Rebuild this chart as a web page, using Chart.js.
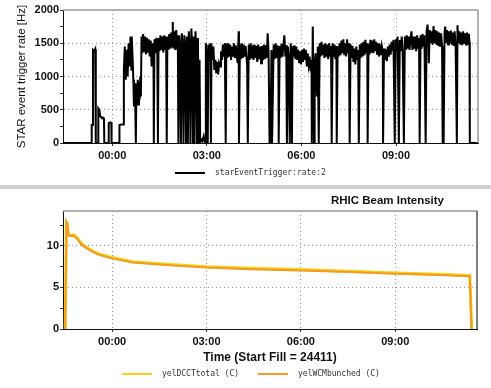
<!DOCTYPE html>
<html>
<head>
<meta charset="utf-8">
<script src="https://cdn.jsdelivr.net/npm/chart.js@4.4.1/dist/chart.umd.min.js"></script>
<style>
  html, body { margin: 0; padding: 0; background: #fff; }
  #wrap { position: relative; width: 491px; height: 388px; overflow: hidden; }
  #rateChart { position: absolute; left: 0; top: 0; }
  #band { position: absolute; left: 0; top: 185px; width: 491px; height: 4px; background: #cfcfcf; }
  #beamChart { position: absolute; left: 0; top: 189px; }
</style>
</head>
<body>
<div id="wrap">
  <canvas id="rateChart" width="491" height="185"></canvas>
  <div id="band"></div>
  <canvas id="beamChart" width="491" height="199"></canvas>
</div>
<script>
// time axis, hours relative to 00:00
const tickHours = [0, 3, 6, 9];
const tickLabels = ["00:00", "03:00", "06:00", "09:00"];
const xMin = -1.56;
const xMax = 11.6;

const rateTicks = [0, 250, 500, 750, 1000, 1250, 1500, 1750, 2000];
const beamTicks = [0, 2.5, 5, 7.5, 10, 12.5];

// starEventTrigger:rate:2
const rateHours = [
  -1.56, -0.66, -0.65, -0.62, -0.61, -0.57, -0.54, -0.52, -0.45, -0.44,
  -0.41, -0.38, -0.35, -0.32, -0.29, -0.26, -0.25, -0.12, -0.11, -0.06,
  -0.03, -0.02, 0.22, 0.23, 0.30, 0.36, 0.37, 0.40, 0.43, 0.46,
  0.49, 0.52, 0.55, 0.58, 0.61, 0.62, 0.65, 0.67, 0.69, 0.71,
  0.73, 0.75, 0.77, 0.79, 0.81, 0.83, 0.85, 0.87, 0.89, 0.91,
  0.93, 0.95, 0.98, 1.01, 1.04, 1.07, 1.10, 1.13, 1.16, 1.19,
  1.22, 1.25, 1.28, 1.31, 1.32, 1.34, 1.37, 1.40, 1.43, 1.45,
  1.47, 1.50, 1.53, 1.56, 1.59, 1.62, 1.65, 1.68, 1.71, 1.73,
  1.75, 1.78, 1.81, 1.84, 1.87, 1.90, 1.92, 1.94, 1.97, 2.00,
  2.03, 2.06, 2.08, 2.10, 2.13, 2.16, 2.18, 2.21, 2.24, 2.26,
  2.29, 2.32, 2.34, 2.37, 2.40, 2.43, 2.46, 2.48, 2.51, 2.54,
  2.56, 2.59, 2.61, 2.64, 2.67, 2.69, 2.72, 2.74, 2.77, 2.79,
  2.82, 2.86, 2.90, 2.93, 2.96, 2.97, 3.00, 3.03, 3.05, 3.08,
  3.11, 3.13, 3.15, 3.18, 3.21, 3.24, 3.27, 3.30, 3.33, 3.36,
  3.39, 3.42, 3.45, 3.48, 3.51, 3.54, 3.57, 3.60, 3.62, 3.65,
  3.68, 3.71, 3.74, 3.77, 3.80, 3.83, 3.86, 3.89, 3.92, 3.95,
  3.98, 4.01, 4.02, 4.05, 4.08, 4.11, 4.14, 4.17, 4.20, 4.23,
  4.26, 4.28, 4.30, 4.33, 4.36, 4.39, 4.42, 4.45, 4.48, 4.51,
  4.54, 4.57, 4.60, 4.63, 4.66, 4.69, 4.72, 4.75, 4.78, 4.81,
  4.84, 4.87, 4.90, 4.93, 4.96, 4.99, 5.02, 5.05, 5.07, 5.09,
  5.12, 5.15, 5.18, 5.21, 5.24, 5.27, 5.28, 5.31, 5.34, 5.37,
  5.40, 5.43, 5.46, 5.49, 5.52, 5.54, 5.57, 5.60, 5.63, 5.66,
  5.69, 5.70, 5.72, 5.75, 5.78, 5.81, 5.84, 5.87, 5.90, 5.93,
  5.96, 5.99, 6.02, 6.05, 6.08, 6.11, 6.14, 6.17, 6.20, 6.23,
  6.26, 6.29, 6.32, 6.33, 6.36, 6.38, 6.40, 6.42, 6.45, 6.49,
  6.52, 6.55, 6.58, 6.61, 6.64, 6.67, 6.70, 6.73, 6.76, 6.79,
  6.82, 6.85, 6.88, 6.91, 6.94, 6.96, 6.99, 7.02, 7.05, 7.08,
  7.11, 7.12, 7.15, 7.18, 7.21, 7.24, 7.27, 7.30, 7.33, 7.36,
  7.39, 7.42, 7.45, 7.48, 7.51, 7.53, 7.56, 7.59, 7.62, 7.65,
  7.68, 7.71, 7.74, 7.77, 7.80, 7.82, 7.85, 7.88, 7.91, 7.94,
  7.97, 8.00, 8.03, 8.06, 8.09, 8.10, 8.13, 8.16, 8.19, 8.22,
  8.25, 8.28, 8.31, 8.34, 8.37, 8.40, 8.43, 8.46, 8.49, 8.52,
  8.55, 8.58, 8.59, 8.62, 8.65, 8.68, 8.71, 8.74, 8.77, 8.80,
  8.83, 8.86, 8.89, 8.92, 8.96, 8.99, 9.02, 9.05, 9.09, 9.12,
  9.15, 9.18, 9.21, 9.25, 9.28, 9.31, 9.34, 9.37, 9.40, 9.43,
  9.46, 9.49, 9.52, 9.55, 9.58, 9.61, 9.64, 9.67, 9.70, 9.73,
  9.75, 9.78, 9.81, 9.84, 9.87, 9.90, 9.94, 9.97, 10.00, 10.03,
  10.04, 10.07, 10.10, 10.13, 10.16, 10.19, 10.22, 10.25, 10.28, 10.31,
  10.34, 10.37, 10.40, 10.43, 10.46, 10.48, 10.51, 10.54, 10.56, 10.59,
  10.62, 10.65, 10.68, 10.71, 10.74, 10.77, 10.80, 10.83, 10.86, 10.89,
  10.93, 10.95, 10.98, 11.01, 11.04, 11.07, 11.10, 11.13, 11.16, 11.19,
  11.22, 11.25, 11.28, 11.31, 11.33, 11.34, 11.62
];
const rateHz = [
  0, 0, 270, 270, 1400, 1380, 1410, 0, 0, 520,
  500, 400, 390, 370, 380, 375, 0, 0, 300, 310,
  300, 0, 0, 270, 280, 280, 1100, 1450, 950, 1400,
  1000, 1500, 1150, 1600, 1100, 1600, 1250, 950, 550, 900,
  600, 0, 900, 600, 950, 580, 920, 650, 1000, 700,
  1600, 1350, 1640, 1380, 1600, 1330, 1580, 1360, 1560, 1300,
  1540, 1150, 1500, 1300, 0, 1560, 1350, 1580, 1380, 0,
  1580, 1380, 1620, 1400, 1600, 1360, 1620, 1400, 1600, 0,
  1600, 1400, 1640, 1420, 1660, 1450, 1820, 1420, 1680, 1400,
  1700, 1420, 1620, 0, 1620, 1380, 0, 1650, 1400, 0,
  1620, 1380, 0, 1600, 0, 1680, 1400, 0, 1720, 1420,
  0, 1600, 0, 1680, 1400, 0, 1580, 0, 1250, 0,
  60, 30, 100, 20, 0, 1500, 1300, 0, 1480, 1280,
  1500, 0, 1480, 1250, 1450, 1100, 1250, 1050, 1220, 1030,
  1200, 1150, 1380, 1250, 1480, 1300, 1500, 0, 1500, 1280,
  1500, 1300, 1480, 1250, 1450, 1300, 1500, 1280, 1470, 1300,
  1200, 1680, 0, 1480, 1260, 1500, 1280, 1480, 1300, 1460,
  1300, 1150, 0, 1480, 1250, 1500, 1270, 1470, 1250, 1480,
  1280, 1460, 1220, 1480, 1260, 1450, 1200, 1460, 1250, 1480,
  1260, 1470, 1280, 1650, 1350, 0, 0, 1400, 0, 0,
  1480, 1260, 1500, 1280, 1470, 1250, 0, 1460, 1280, 1490,
  1300, 1480, 1620, 1300, 1470, 0, 1450, 1280, 0, 1500,
  1280, 0, 1460, 1300, 1470, 1260, 1450, 1250, 1400, 1200,
  1380, 1180, 1400, 1220, 1420, 1250, 1400, 1150, 1350, 1180,
  1300, 1080, 1250, 0, 1750, 1000, 0, 1150, 1350, 700,
  1450, 0, 1500, 1300, 1520, 1320, 1480, 1280, 1500, 1300,
  1480, 1260, 1500, 1300, 1460, 0, 1500, 1300, 1480, 1260,
  1460, 0, 1450, 1300, 1500, 1320, 1540, 1350, 1560, 1320,
  1500, 1300, 1560, 1350, 1500, 0, 1480, 1280, 1460, 1220,
  1420, 1180, 1450, 1250, 1400, 0, 1480, 1280, 1500, 1300,
  1520, 1320, 1550, 1350, 1500, 0, 1480, 1330, 1550, 1360,
  1540, 1350, 1560, 1380, 1520, 1330, 1500, 1300, 1480, 1320,
  1460, 1380, 0, 1420, 1250, 1400, 1230, 1450, 1300, 1480,
  1330, 1520, 1380, 1550, 0, 1560, 1380, 1600, 0, 1550,
  1380, 1600, 1400, 0, 1600, 1400, 1620, 1420, 1600, 1400,
  1580, 1680, 1400, 1600, 1420, 1600, 1380, 1620, 1420, 1580,
  0, 1620, 1420, 1640, 1450, 1620, 0, 1680, 1780, 1480,
  1200, 1700, 1500, 1680, 1480, 1760, 1500, 1700, 1480, 1680,
  1460, 1660, 1450, 1650, 1460, 0, 0, 1660, 1750, 1500,
  1700, 1480, 1680, 1500, 1690, 1480, 1660, 1460, 1680, 1480,
  0, 1770, 1500, 1680, 1480, 1660, 1470, 1680, 1490, 1650,
  1480, 1660, 1480, 1640, 1520, 0, 0
];

// RHIC beam intensity
const beamHours = [
  -1.49, -1.45, -1.42, -1.39, -1.34, -1.21, -1.12, -1.02, -0.92, -0.81,
  -0.6, -0.39, 0, 0.66, 1.72, 3.0, 4.4, 6.0, 7.53, 9.0,
  10.39, 11.37, 11.43
];
const dcctTotal = [
  0, 12.8, 12.7, 11.4, 11.3, 11.3, 11.0, 10.5, 10.1, 9.8,
  9.35, 9.0, 8.6, 8.1, 7.8, 7.5, 7.3, 7.15, 6.95, 6.75,
  6.6, 6.45, 0
];
const wcmBunched = [
  0, 12.9, 12.6, 11.3, 11.2, 11.2, 10.9, 10.4, 10.0, 9.7,
  9.25, 8.9, 8.5, 8.0, 7.7, 7.4, 7.2, 7.05, 6.85, 6.65,
  6.5, 6.35, 0
];

const toPoints = (xs, ys) => xs.map((x, i) => ({ x: x, y: ys[i] }));

Chart.defaults.font.family = '"Liberation Sans", Arial, sans-serif';
Chart.defaults.color = "#111";

// grey top / right edge of the plot box
const plotFrame = {
  id: "plotFrame",
  afterDraw(chart, args, opts) {
    const { ctx, chartArea: a } = chart;
    ctx.save();
    ctx.lineWidth = opts.width;
    ctx.strokeStyle = opts.topColor;
    ctx.beginPath();
    ctx.moveTo(a.left, a.top);
    ctx.lineTo(a.right, a.top);
    ctx.stroke();
    ctx.strokeStyle = opts.rightColor;
    ctx.beginPath();
    ctx.moveTo(a.right, a.top);
    ctx.lineTo(a.right, a.bottom);
    ctx.stroke();
    ctx.restore();
  },
};

// legend with line samples at fixed spots
const lineLegend = {
  id: "lineLegend",
  afterDraw(chart, args, opts) {
    const ctx = chart.ctx;
    ctx.save();
    ctx.font = opts.font;
    ctx.textBaseline = "middle";
    ctx.textAlign = "left";
    chart.data.datasets.forEach((ds, i) => {
      const x = opts.x[i];
      ctx.strokeStyle = ds.borderColor;
      ctx.lineWidth = 2;
      ctx.beginPath();
      ctx.moveTo(x, opts.y);
      ctx.lineTo(x + 30, opts.y);
      ctx.stroke();
      ctx.fillStyle = "#333";
      ctx.fillText(ds.label, x + 40, opts.y);
    });
    ctx.restore();
  },
};

const cornerTitle = {
  id: "cornerTitle",
  afterDraw(chart, args, opts) {
    if (!opts.text) return;
    const ctx = chart.ctx;
    ctx.save();
    ctx.font = opts.font;
    ctx.fillStyle = "#111";
    ctx.textAlign = "right";
    ctx.textBaseline = "middle";
    ctx.fillText(opts.text, opts.x, opts.y);
    ctx.restore();
  },
};

Chart.register(plotFrame, lineLegend, cornerTitle);

const timeAxis = (extra) =>
  Object.assign(
    {
      type: "linear",
      min: xMin,
      max: xMax,
      afterBuildTicks: (s) => {
        s.ticks = tickHours.map((v) => ({ value: v }));
      },
      ticks: {
        callback: (v) => tickLabels[tickHours.indexOf(v)],
        font: { size: 11, weight: "bold" },
        padding: 3,
        maxRotation: 0,
        autoSkip: false,
      },
      grid: { color: "#9a9a9a", tickColor: "#333", tickLength: 3 },
      border: { color: "#111", dash: [1, 3] },
    },
    extra
  );

const rateChart = new Chart(document.querySelector("#rateChart"), {
  type: "line",
  data: {
    datasets: [
      {
        label: "starEventTrigger:rate:2",
        data: toPoints(rateHours, rateHz),
        borderColor: "#000",
        borderWidth: 2,
        pointRadius: 0,
        tension: 0,
      },
    ],
  },
  options: {
    responsive: false,
    animation: false,
    events: [],
    devicePixelRatio: 1,
    layout: { padding: { top: 10, right: 13, bottom: 22, left: 0 } },
    plugins: {
      legend: { display: false },
      tooltip: { enabled: false },
      plotFrame: { topColor: "#999", rightColor: "#999", width: 1.5 },
      lineLegend: { x: [175], y: 173, font: '8px "DejaVu Sans Mono", monospace' },
    },
    scales: {
      x: timeAxis({
        afterFit: (s) => {
          s.height = 20;
        },
      }),
      y: {
        min: 0,
        max: 2000,
        afterBuildTicks: (s) => {
          s.ticks = rateTicks.map((v) => ({ value: v }));
        },
        afterFit: (s) => {
          s.width = 63;
        },
        ticks: {
          callback: (v) => (v % 500 === 0 ? String(v) : ""),
          font: { size: 11, weight: "bold" },
          padding: 1,
          autoSkip: false,
        },
        grid: {
          color: (c) =>
            c.tick && c.tick.value % 500 === 0 && c.tick.value > 0 && c.tick.value < 2000
              ? "#9a9a9a"
              : "rgba(0,0,0,0)",
          tickColor: "#333",
          tickLength: 3,
        },
        border: { color: "#111", dash: [1, 3] },
        title: {
          display: true,
          text: "STAR event trigger rate [Hz]",
          font: { size: 11.5 },
          padding: { top: 15, bottom: 0 },
        },
      },
    },
  },
});

const beamChart = new Chart(document.querySelector("#beamChart"), {
  type: "line",
  data: {
    datasets: [
      {
        label: "yelDCCTtotal (C)",
        data: toPoints(beamHours, dcctTotal),
        borderColor: "#f7d117",
        borderWidth: 3,
        pointRadius: 0,
        tension: 0,
        order: 1,
      },
      {
        label: "yelWCMbunched (C)",
        data: toPoints(beamHours, wcmBunched),
        borderColor: "#f39a22",
        borderWidth: 2,
        pointRadius: 0,
        tension: 0,
        order: 0,
      },
    ],
  },
  options: {
    responsive: false,
    animation: false,
    events: [],
    devicePixelRatio: 1,
    layout: { padding: { top: 22, right: 14, bottom: 19, left: 0 } },
    plugins: {
      legend: { display: false },
      tooltip: { enabled: false },
      plotFrame: { topColor: "#999", rightColor: "#555", width: 1.5 },
      lineLegend: { x: [122, 258], y: 185, font: '8px "DejaVu Sans Mono", monospace' },
      cornerTitle: {
        text: "RHIC Beam Intensity",
        x: 444,
        y: 12,
        font: 'bold 11.5px "Liberation Sans", Arial, sans-serif',
      },
    },
    scales: {
      x: timeAxis({
        afterFit: (s) => {
          s.height = 40;
        },
        title: {
          display: true,
          text: "Time (Start Fill = 24411)",
          font: { size: 12, weight: "bold" },
          padding: { top: 0, bottom: 4 },
        },
      }),
      y: {
        min: 0,
        max: 14.2,
        afterBuildTicks: (s) => {
          s.ticks = beamTicks.map((v) => ({ value: v }));
        },
        afterFit: (s) => {
          s.width = 63;
        },
        ticks: {
          callback: (v) => (v % 5 === 0 ? String(v) : ""),
          font: { size: 11, weight: "bold" },
          padding: 1,
          autoSkip: false,
        },
        grid: {
          color: (c) =>
            c.tick && c.tick.value % 5 === 0 && c.tick.value > 0 ? "#9a9a9a" : "rgba(0,0,0,0)",
          tickColor: "#333",
          tickLength: 3,
        },
        border: { color: "#111", dash: [1, 3] },
      },
    },
  },
});
</script>
</body>
</html>
